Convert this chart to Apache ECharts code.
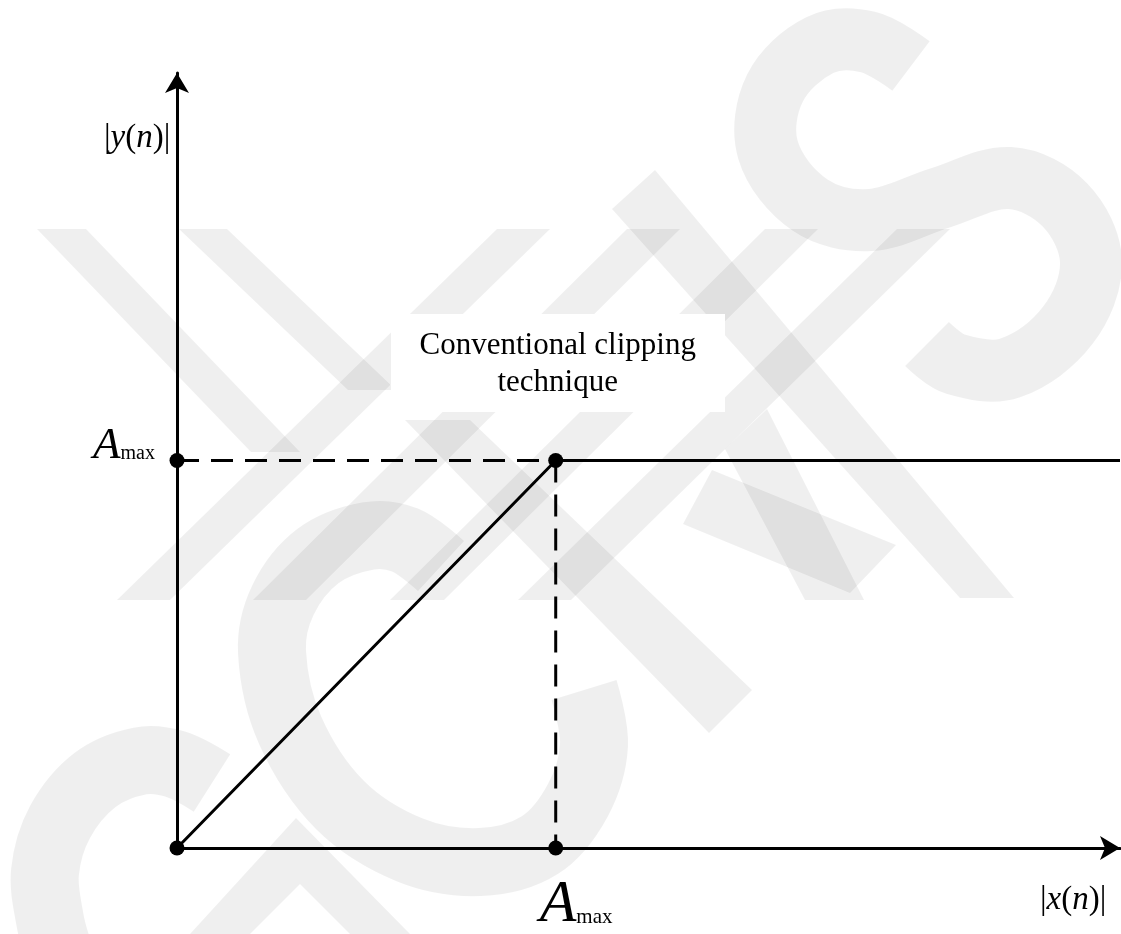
<!DOCTYPE html>
<html>
<head>
<meta charset="utf-8">
<script src="https://cdn.jsdelivr.net/npm/echarts@6/dist/echarts.min.js"></script>
<style>
  html, body { margin: 0; padding: 0; background: #fff; }
  #chart { width: 1121px; height: 934px; }
</style>
</head>
<body>
<div id="chart"></div>
<script>
// clipping curve, in units of Amax
const aMax = 1
const xEnd = 2.49
const yEnd = 2.0
const clipLine = [[0, 0], [aMax, aMax], [xEnd, aMax]]
const dashH = [[0, aMax], [aMax, aMax]]
const dashV = [[aMax, aMax], [aMax, 0]]
const dots = [[0, 0], [0, aMax], [aMax, aMax], [aMax, 0]]
const noteLines = ['Conventional clipping', 'technique']

const serif = '"Liberation Serif", "Times New Roman", serif'
const chart = echarts.init(document.getElementById('chart'))

// background watermark (decoration only, pixel shapes)
const wmFill = 'rgba(0,0,0,0.062)'
const bands = [
  [[117, 600], [170, 600], [550, 229], [497, 229]],
  [[253, 600], [306, 600], [680, 229], [627, 229]],
  [[390, 600], [444, 600], [818, 229], [765, 229]],
  [[518, 600], [571, 600], [950, 229], [897, 229]],
  [[37, 229], [86, 229], [300, 452], [251, 452]],
  [[179, 229], [227, 229], [396, 390], [348, 390]],
  [[612, 209], [655, 170], [1014, 598], [960, 598]],
  [[725, 449], [767, 409], [864, 600], [805, 600]],
  [[712, 470], [896, 545], [850, 593], [683, 524]],
  [[405, 420], [470, 420], [752, 690], [709, 733]],
  [[296, 818], [410, 934], [350, 934], [300, 884], [250, 934], [190, 934]]
]
const strokes = [
  // S
  { w: 62, pts: [[911, 66], [868, 42], [820, 45], [775, 88], [768, 150], [810, 205], [870, 220], [940, 198], [1010, 178], [1065, 205], [1091, 262], [1068, 325], [1010, 368], [955, 364], [927, 344]] },
  // C bottom left
  { w: 68, pts: [[212, 783], [175, 764], [140, 761], [95, 780], [60, 822], [45, 872], [50, 920], [58, 950]] },
  // G middle
  { w: 68, pts: [[441, 566], [405, 540], [368, 536], [318, 556], [283, 600], [272, 652], [290, 730], [340, 805], [410, 850], [480, 862], [540, 845], [578, 800], [594, 745], [584, 690]] }
]
const watermark = bands.map(p => ({
  type: 'polygon', silent: true, z: -10, shape: { points: p }, style: { fill: wmFill }
})).concat(strokes.map(s => ({
  type: 'polyline', silent: true, z: -10, shape: { points: s.pts, smooth: 0.35 },
  style: { stroke: wmFill, lineWidth: s.w, fill: null, lineCap: 'butt', lineJoin: 'round' }
})))

chart.setOption({
  backgroundColor: '#fff',
  animation: false,
  grid: { left: 177, right: 1, top: 73, bottom: 86, containLabel: false },
  xAxis: {
    type: 'value', min: 0, max: xEnd,
    axisLine: { show: true, symbol: ['none', 'arrow'], symbolSize: [18, 20], lineStyle: { color: '#000', width: 3 } },
    axisTick: { show: false }, axisLabel: { show: false }, splitLine: { show: false }
  },
  yAxis: {
    type: 'value', min: 0, max: yEnd,
    axisLine: { show: true, symbol: ['none', 'arrow'], symbolSize: [18, 20], lineStyle: { color: '#000', width: 3 } },
    axisTick: { show: false }, axisLabel: { show: false }, splitLine: { show: false }
  },
  series: [
    { type: 'line', data: dashH, symbol: 'none', lineStyle: { color: '#000', width: 3, type: [22, 12] }, z: 3 },
    { type: 'line', data: dashV, symbol: 'none', lineStyle: { color: '#000', width: 3, type: [22, 12] }, z: 3 },
    { type: 'line', data: clipLine, symbol: 'none', lineStyle: { color: '#000', width: 3 }, z: 4 },
    {
      type: 'scatter', data: dots, symbol: 'circle', symbolSize: 15,
      itemStyle: { color: '#000', opacity: 1 }, emphasis: { disabled: true }, z: 5
    }
  ],
  graphic: watermark
})

const origin = chart.convertToPixel({ gridIndex: 0 }, [0, 0])
const peak = chart.convertToPixel({ gridIndex: 0 }, [aMax, aMax])

// "A" with subscript-size "max" sharing one baseline
function ampText(aSize, mSize) {
  const pb = Math.round(0.18 * (aSize - mSize))
  return {
    text: '{a|A}{m|max}',
    verticalAlign: 'bottom',
    rich: {
      a: { fontFamily: serif, fontStyle: 'italic', fontSize: aSize, lineHeight: aSize, color: '#000', verticalAlign: 'bottom' },
      m: { fontFamily: serif, fontSize: mSize, lineHeight: mSize, color: '#000', verticalAlign: 'bottom', padding: [0, 0, pb, 0] }
    }
  }
}
function sigText(v) {
  return {
    text: '{p||}{i|' + v + '}{p|(}{i|n}{p|)|}',
    verticalAlign: 'middle',
    rich: {
      p: { fontFamily: serif, fontSize: 33, color: '#000' },
      i: { fontFamily: serif, fontStyle: 'italic', fontSize: 33, color: '#000' }
    }
  }
}

chart.setOption({
  graphic: watermark.concat([
    { type: 'rect', z: 20, shape: { x: 391, y: 314, width: 334, height: 98 }, style: { fill: '#fff' } },
    {
      type: 'text', z: 21, x: peak[0] + 2, y: 346,
      style: { text: noteLines[0], fontFamily: serif, fontSize: 31, fill: '#000', align: 'center', verticalAlign: 'middle' }
    },
    {
      type: 'text', z: 21, x: peak[0] + 2, y: 383,
      style: { text: noteLines[1], fontFamily: serif, fontSize: 31, fill: '#000', align: 'center', verticalAlign: 'middle' }
    },
    { type: 'text', z: 20, x: 93, y: peak[1] + 8, style: ampText(45, 20) },
    { type: 'text', z: 20, x: peak[0] - 16, y: origin[1] + 87, style: ampText(60, 21) },
    { type: 'text', z: 20, x: 104, y: 138, style: sigText('y') },
    { type: 'text', z: 20, x: 1040, y: 900, style: sigText('x') }
  ])
})
</script>
</body>
</html>
